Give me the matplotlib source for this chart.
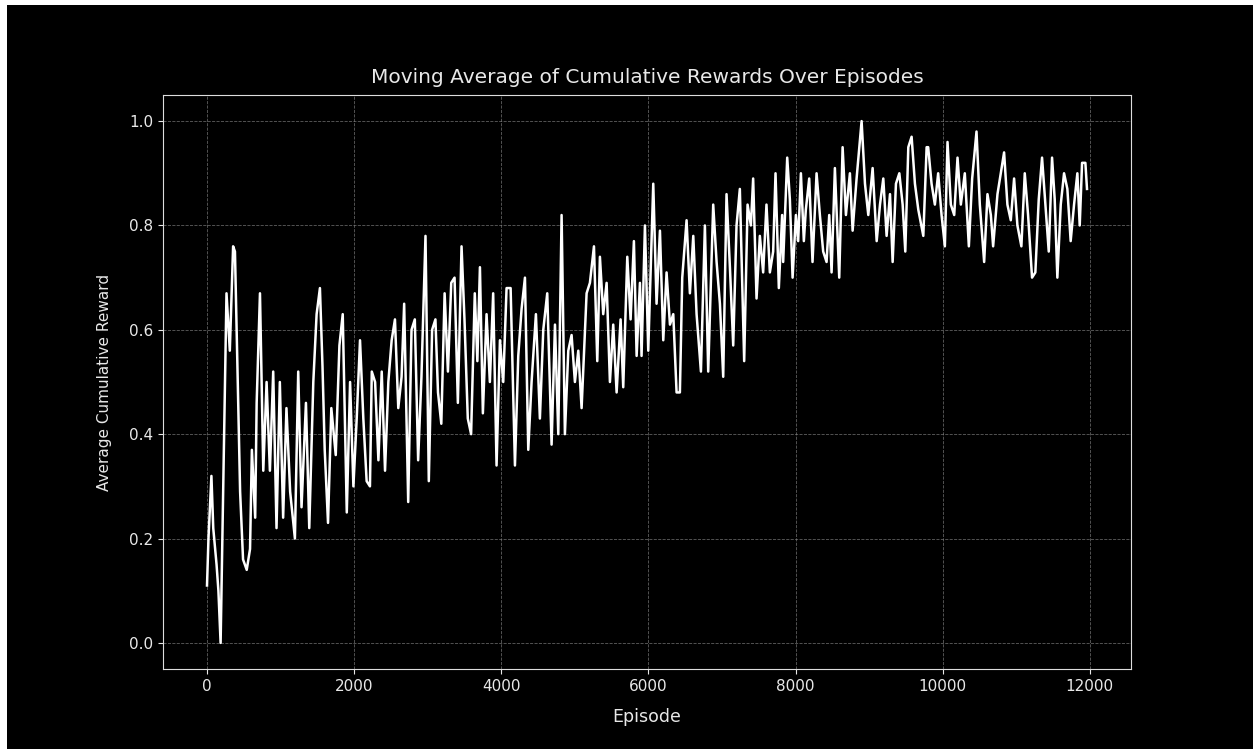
import matplotlib
matplotlib.use("Agg")
import matplotlib.pyplot as plt
from matplotlib.patches import Rectangle

# moving average of cumulative rewards
episodes_a = [0, 20, 40, 60, 85, 130, 155, 185, 220, 265, 310, 355, 380, 425, 450, 490, 540,
              585, 610, 655, 675, 720, 765, 810, 855, 900, 945, 990, 1035, 1080, 1130, 1195,
              1240, 1285, 1345, 1390, 1445, 1490, 1535, 1570, 1600, 1645, 1690, 1750, 1800,
              1845, 1900, 1945]
rewards_a = [0.11, 0.20, 0.26, 0.32, 0.22, 0.15, 0.10, 0.00, 0.29, 0.67, 0.56, 0.76, 0.75,
             0.46, 0.29, 0.16, 0.14, 0.18, 0.37, 0.24, 0.46, 0.67, 0.33, 0.50, 0.33, 0.52,
             0.22, 0.50, 0.24, 0.45, 0.29, 0.20, 0.52, 0.26, 0.46, 0.22, 0.50, 0.63, 0.68,
             0.53, 0.37, 0.23, 0.45, 0.36, 0.57, 0.63, 0.25, 0.50]

episodes_b = [1990, 2035, 2080, 2125, 2170, 2215, 2240, 2285, 2330, 2375, 2420, 2465, 2510,
              2555, 2600, 2645, 2680, 2735, 2780, 2825, 2870, 2915, 2970, 3015, 3060, 3105,
              3140, 3185, 3230, 3275, 3320, 3365, 3410, 3460, 3500, 3545, 3590, 3640, 3675,
              3710, 3750, 3800, 3845, 3890]
rewards_b = [0.30, 0.43, 0.58, 0.43, 0.31, 0.30, 0.52, 0.50, 0.35, 0.52, 0.33, 0.50, 0.58,
             0.62, 0.45, 0.51, 0.65, 0.27, 0.60, 0.62, 0.35, 0.51, 0.78, 0.31, 0.60, 0.62,
             0.48, 0.42, 0.67, 0.52, 0.69, 0.70, 0.46, 0.76, 0.62, 0.43, 0.40, 0.67, 0.54,
             0.72, 0.44, 0.63, 0.50, 0.67]

episodes_c = [3936, 3982, 4027, 4072, 4127, 4186, 4231, 4276, 4322, 4367, 4412, 4471, 4525,
              4571, 4625, 4684, 4730, 4775, 4820, 4865, 4911, 4956, 5001, 5047, 5092, 5160,
              5205, 5260, 5305, 5341, 5386, 5432, 5477, 5522, 5568, 5622, 5658, 5713, 5758,
              5803, 5840, 5885]
rewards_c = [0.34, 0.58, 0.50, 0.68, 0.68, 0.34, 0.55, 0.64, 0.70, 0.37, 0.50, 0.63, 0.43,
             0.60, 0.67, 0.38, 0.61, 0.40, 0.82, 0.40, 0.56, 0.59, 0.50, 0.56, 0.45, 0.67,
             0.69, 0.76, 0.54, 0.74, 0.63, 0.69, 0.50, 0.61, 0.48, 0.62, 0.49, 0.74, 0.62,
             0.77, 0.55, 0.69]

episodes_d = [5907, 5953, 5998, 6066, 6111, 6157, 6202, 6247, 6293, 6338, 6383, 6428, 6460,
              6519, 6564, 6610, 6655, 6714, 6768, 6813, 6881, 6927, 6972, 7017, 7062, 7108,
              7153, 7198, 7243, 7302, 7348, 7393, 7424, 7470, 7515, 7560, 7605, 7651, 7696,
              7728, 7773, 7818]
rewards_d = [0.55, 0.80, 0.56, 0.88, 0.65, 0.79, 0.58, 0.71, 0.61, 0.63, 0.48, 0.48, 0.70,
             0.81, 0.67, 0.78, 0.63, 0.52, 0.80, 0.52, 0.84, 0.73, 0.65, 0.51, 0.86, 0.72,
             0.57, 0.80, 0.87, 0.54, 0.84, 0.80, 0.89, 0.66, 0.78, 0.71, 0.84, 0.71, 0.75,
             0.90, 0.68, 0.82]

episodes_e = [7832, 7887, 7923, 7960, 8005, 8036, 8073, 8113, 8140, 8186, 8231, 8286, 8331,
              8376, 8422, 8458, 8490, 8535, 8594, 8640, 8685, 8739, 8776, 8830, 8898, 8944,
              8989, 9048, 9103, 9148, 9193, 9238, 9284, 9320, 9365, 9411, 9456, 9492, 9533,
              9578, 9623, 9669, 9737, 9782]
rewards_e = [0.73, 0.93, 0.85, 0.70, 0.82, 0.77, 0.90, 0.77, 0.83, 0.89, 0.73, 0.90, 0.82,
             0.75, 0.73, 0.82, 0.71, 0.91, 0.70, 0.95, 0.82, 0.90, 0.79, 0.89, 1.00, 0.88,
             0.82, 0.91, 0.77, 0.84, 0.89, 0.78, 0.86, 0.73, 0.88, 0.90, 0.84, 0.75, 0.95,
             0.97, 0.88, 0.83, 0.78, 0.95]

episodes_f = [9803, 9849, 9894, 9939, 9985, 10030, 10066, 10111, 10157, 10202, 10247, 10301,
              10356, 10401, 10460, 10505, 10564, 10609, 10655, 10686, 10745, 10790, 10835,
              10880, 10926, 10971, 11016, 11070, 11116, 11161, 11215, 11260, 11306, 11351,
              11396, 11442, 11487, 11523, 11559, 11605, 11650, 11695, 11740, 11786, 11831,
              11863, 11895, 11940, 11962]
rewards_f = [0.95, 0.88, 0.84, 0.90, 0.82, 0.76, 0.96, 0.84, 0.82, 0.93, 0.84, 0.90, 0.76,
             0.89, 0.98, 0.84, 0.73, 0.86, 0.82, 0.76, 0.86, 0.90, 0.94, 0.84, 0.81, 0.89,
             0.80, 0.76, 0.90, 0.82, 0.70, 0.71, 0.85, 0.93, 0.84, 0.75, 0.93, 0.85, 0.70,
             0.84, 0.90, 0.87, 0.77, 0.84, 0.90, 0.80, 0.92, 0.92, 0.87]

episodes = episodes_a + episodes_b + episodes_c + episodes_d + episodes_e + episodes_f
rewards = rewards_a + rewards_b + rewards_c + rewards_d + rewards_e + rewards_f

plt.style.use("dark_background")

fig = plt.figure(figsize=(12.53, 7.49), dpi=100)
fig.patch.set_facecolor("white")
# screenshot-like thin white strip on top and left
fig.patches.append(Rectangle((7 / 1253, 0), 1, 1 - 5 / 749, transform=fig.transFigure,
                             facecolor="black", edgecolor="none", zorder=-1))

ax = fig.add_axes([163 / 1253, 1 - 669 / 749, (1131 - 163) / 1253, (669 - 95) / 749])
ax.set_facecolor("black")
ax.plot(episodes, rewards, color="white", linewidth=1.8)
ax.set_title("Moving Average of Cumulative Rewards Over Episodes", fontsize=14.5,
             color="#e8e8e8", pad=9)
ax.set_xlabel("Episode", fontsize=12.5, color="#e8e8e8", labelpad=10)
ax.set_ylabel("Average Cumulative Reward", fontsize=11, color="#e8e8e8", labelpad=12)
ax.tick_params(labelsize=11, colors="#e8e8e8")
for s in ax.spines.values():
    s.set_color("#dddddd")
ax.grid(True, linestyle="--", linewidth=0.6, color="#888888", alpha=0.7)

plt.savefig("out.png", dpi=100, facecolor=fig.get_facecolor())
plt.close()
